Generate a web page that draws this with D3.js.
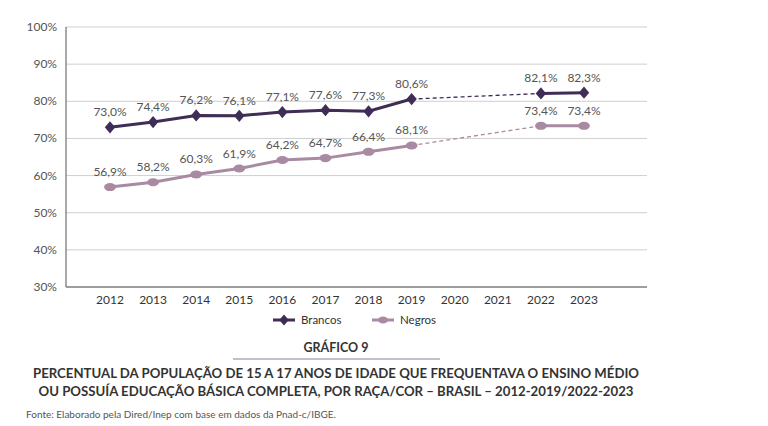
<!DOCTYPE html>
<html><head><meta charset="utf-8">
<script src="https://cdn.jsdelivr.net/npm/d3@7"></script>
<style>body{margin:0;background:#fff}text{font-family:Lato,"Open Sans",sans-serif}</style>
</head><body><div id="content"></div>
<script>
let years = [2012,2013,2014,2015,2016,2017,2018,2019,2020,2021,2022,2023];
let brancos = [[2012,73.0],[2013,74.4],[2014,76.2],[2015,76.1],[2016,77.1],[2017,77.6],[2018,77.3],[2019,80.6],[2022,82.1],[2023,82.3]];
let negros = [[2012,56.9],[2013,58.2],[2014,60.3],[2015,61.9],[2016,64.2],[2017,64.7],[2018,66.4],[2019,68.1],[2022,73.4],[2023,73.4]];
let yTicks = [30,40,50,60,70,80,90,100];

let svg = d3.select("#content").append("svg").attr("width",768).attr("height",426);
let x = d3.scaleLinear().domain([2012,2023]).range([110,584]);
let y = d3.scaleLinear().domain([30,100]).range([287,27]);
let fmt = v => v.toFixed(1).replace(".",",") + "%";

svg.append("g").selectAll("line").data(yTicks).enter().append("line")
  .attr("x1",66).attr("x2",647).attr("y1",d=>y(d)).attr("y2",d=>y(d))
  .attr("stroke","#cfcfcf").attr("stroke-width",1);
svg.append("g").selectAll("text").data(yTicks).enter().append("text")
  .attr("x",57).attr("y",d=>y(d)+4).attr("text-anchor","end")
  .attr("font-size",12).attr("fill","#555").text(d=>d+"%");
svg.append("line").attr("x1",66).attr("x2",66).attr("y1",27).attr("y2",287).attr("stroke","#555");
svg.append("line").attr("x1",66).attr("x2",647).attr("y1",287).attr("y2",287).attr("stroke","#555");
svg.append("g").selectAll("text").data(years).enter().append("text")
  .attr("x",d=>x(d)).attr("y",304).attr("text-anchor","middle")
  .attr("font-size",12).attr("fill","#333").text(d=>d);

function series(data, color, shape) {
  let line = d3.line().x(d=>x(d[0])).y(d=>y(d[1]));
  let solid = data.filter(d=>d[0]<=2019), later = data.filter(d=>d[0]>=2022);
  let gap = [solid[solid.length-1], later[0]];
  svg.append("path").attr("d",line(solid)).attr("fill","none").attr("stroke",color).attr("stroke-width",3);
  svg.append("path").attr("d",line(later)).attr("fill","none").attr("stroke",color).attr("stroke-width",3);
  svg.append("path").attr("d",line(gap)).attr("fill","none").attr("stroke",color).attr("stroke-width",1.3).attr("stroke-dasharray","4,3");
  let sym = d3.symbol().type(shape).size(shape===d3.symbolDiamond?60:70);
  svg.append("g").selectAll("path").data(data).enter().append("path")
    .attr("d",sym).attr("transform",d=>`translate(${x(d[0])},${y(d[1])}) scale(1.25,0.85)`).attr("fill",color);
  svg.append("g").selectAll("text").data(data).enter().append("text")
    .attr("x",d=>x(d[0])).attr("y",d=>y(d[1])-11).attr("text-anchor","middle")
    .attr("font-size",12).attr("fill","#555").text(d=>fmt(d[1]));
}
series(brancos,"#3f2d56",d3.symbolDiamond);
series(negros,"#a98aa3",d3.symbolCircle);

let legend = [["Brancos","#3f2d56",d3.symbolDiamond,273],["Negros","#a98aa3",d3.symbolCircle,372]];
legend.forEach(l=>{
  svg.append("line").attr("x1",l[3]).attr("x2",l[3]+22).attr("y1",320).attr("y2",320).attr("stroke",l[1]).attr("stroke-width",3);
  svg.append("path").attr("d",d3.symbol().type(l[2]).size(50)()).attr("transform",`translate(${l[3]+11},320) scale(1.25,0.85)`).attr("fill",l[1]);
  svg.append("text").attr("x",l[3]+28).attr("y",324).attr("font-size",11.5).attr("fill","#333").text(l[0]);
});

svg.append("text").attr("x",336).attr("y",352).attr("text-anchor","middle").attr("font-size",12.5).attr("font-weight","bold").attr("fill","#333").text("GRÁFICO 9");
svg.append("line").attr("x1",233).attr("x2",440).attr("y1",359).attr("y2",359).attr("stroke","#8d7c96").attr("stroke-width",1.2);
svg.append("text").attr("x",336).attr("y",378).attr("text-anchor","middle").attr("font-size",13.2).attr("font-weight","bold").attr("fill","#333").text("PERCENTUAL DA POPULAÇÃO DE 15 A 17 ANOS DE IDADE QUE FREQUENTAVA O ENSINO MÉDIO");
svg.append("text").attr("x",336).attr("y",396).attr("text-anchor","middle").attr("font-size",13.2).attr("font-weight","bold").attr("fill","#333").text("OU POSSUÍA EDUCAÇÃO BÁSICA COMPLETA, POR RAÇA/COR – BRASIL – 2012-2019/2022-2023");
svg.append("text").attr("x",26).attr("y",418).attr("font-size",10).attr("fill","#555").text("Fonte:  Elaborado pela Dired/Inep com base em dados da Pnad-c/IBGE.");
</script></body></html>
